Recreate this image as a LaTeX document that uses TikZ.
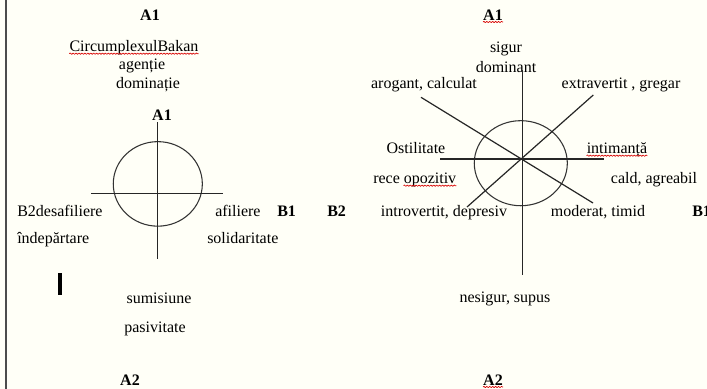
\documentclass[tikz,border=0pt]{standalone}
\usepackage{fontspec}
\setmainfont{Liberation Serif}
\usepackage{xcolor}
\usetikzlibrary{positioning,decorations.pathmorphing}
\definecolor{paper}{RGB}{255,255,247}
\tikzset{
  lbl/.style={inner sep=0pt, anchor=base, font=\fontsize{12}{14}\selectfont},
  axlbl/.style={lbl, font=\fontsize{12}{14}\selectfont\bfseries},
  axis/.style={line width=0.9pt, black!85},
  ring/.style={line width=0.8pt, black!80},
  squiggle/.style={red!85!black, line width=0.5pt,
    decorate, decoration={snake, amplitude=0.5pt, segment length=2.2pt}},
  every picture/.style={line cap=butt, line join=round}
}

\begin{document}
\begin{tikzpicture}[x=0.75pt, y=-0.75pt]
  \fill[paper] (0,0) rectangle (707,389);
  \useasboundingbox (0,0) rectangle (707,389);
  \draw[line width=1.5pt, black!70] (5.5,0) -- (5.5,389);

  % left circumplex
  \node[axlbl] (la1) at (150,20) {A1};
  \node[lbl] (cb) at (134,51) {CircumplexulBakan};
  \node[lbl] (ag) at (142,69) {agenție};
  \node[lbl] (dm) at (148,88) {dominație};
  \node[axlbl] (lta) at (162,120) {A1};

  \coordinate (lN) at (157.7,122);
  \coordinate (lS) at (157.7,259);
  \coordinate (lW) at (91,193.3);
  \coordinate (lE) at (222.7,193.3);
  \coordinate (lc) at (157.8,183.9);
  \draw[ring] (lc) ellipse [x radius=33.4pt, y radius=31.7pt];
  \draw[axis] (lN) -- (lS);
  \draw[axis] (lW) -- (lE);

  \node[lbl, anchor=base west] (desaf) at (17,216) {B2desafiliere};
  \node[lbl, anchor=base west] (indep) at (17,243) {îndepărtare};
  \node[lbl, anchor=base west] (afil) at (215,216) {afiliere};
  \node[axlbl, anchor=base west] (lb1) at (277,216) {B1};
  \node[lbl, anchor=base west] (solid) at (207,243) {solidaritate};
  \node[lbl] (sum) at (159,303) {sumisiune};
  \node[lbl] (pas) at (155,332) {pasivitate};
  \node[axlbl] (la2) at (130,385) {A2};
  \coordinate (crT) at (60,273);
  \coordinate (crB) at (60,295);
  \draw[line width=3pt] (crT) -- (crB);

  % right circumplex
  \node[axlbl] (ra1) at (493,20) {A1};
  \node[lbl] (sig) at (506,52) {sigur};
  \node[lbl] (dom) at (506,72) {dominant};
  \node[lbl] (aro) at (424,88) {arogant, calculat};
  \node[lbl] (ext) at (621,88) {extravertit , gregar};

  \coordinate (rN) at (522.3,70);
  \coordinate (rS) at (522.3,275);
  \coordinate (rW) at (440,159);
  \coordinate (rE) at (604,159);
  \coordinate (rNW) at (421,97.3);
  \coordinate (rSE) at (593,203);
  \coordinate (rNE) at (593.3,95);
  \coordinate (rSW) at (467,207);
  \coordinate (rc) at (520.8,163.2);
  \draw[ring] (rc) ellipse [x radius=34.9pt, y radius=31.9pt];
  \draw[axis] (rN) -- (rS);
  \draw[axis] (rW) -- (rE);
  \draw[axis] (rNW) -- (rSE);
  \draw[axis] (rNE) -- (rSW);

  \node[lbl] (ost) at (416,153) {Ostilitate};
  \node[lbl] (inti) at (617,153) {intimanță};
  \node[lbl, anchor=base west] (rece) at (373,183) {rece};
  \node[lbl, base right=0.25em of rece] (opoz) {opozitiv};
  \node[lbl] (cald) at (654,183) {cald, agreabil};
  \node[axlbl, anchor=base west] (rb2) at (327,216) {B2};
  \node[lbl] (intro) at (444,216) {introvertit, depresiv};
  \node[lbl] (mod) at (598,216) {moderat, timid};
  \node[axlbl, anchor=base west] (rb1) at (692,216) {B1};
  \node[lbl] (nes) at (505,302) {nesigur, supus};
  \node[axlbl] (ra2) at (493,385) {A2};

  % spelling marks
  \draw[squiggle] ([yshift=-2pt]cb.base west) -- ([yshift=-2pt]cb.base east);
  \draw[squiggle] ([yshift=-2pt]opoz.base west) -- ([yshift=-2pt]opoz.base east);
  \draw[squiggle] ([yshift=-2pt]inti.base west) -- ([yshift=-2pt]inti.base east);
  \draw[squiggle] ([yshift=-1.5pt]ra1.base west) -- ([yshift=-1.5pt]ra1.base east);
  \draw[squiggle] ([yshift=-1.5pt]ra2.base west) -- ([yshift=-1.5pt]ra2.base east);
\end{tikzpicture}
\end{document}
